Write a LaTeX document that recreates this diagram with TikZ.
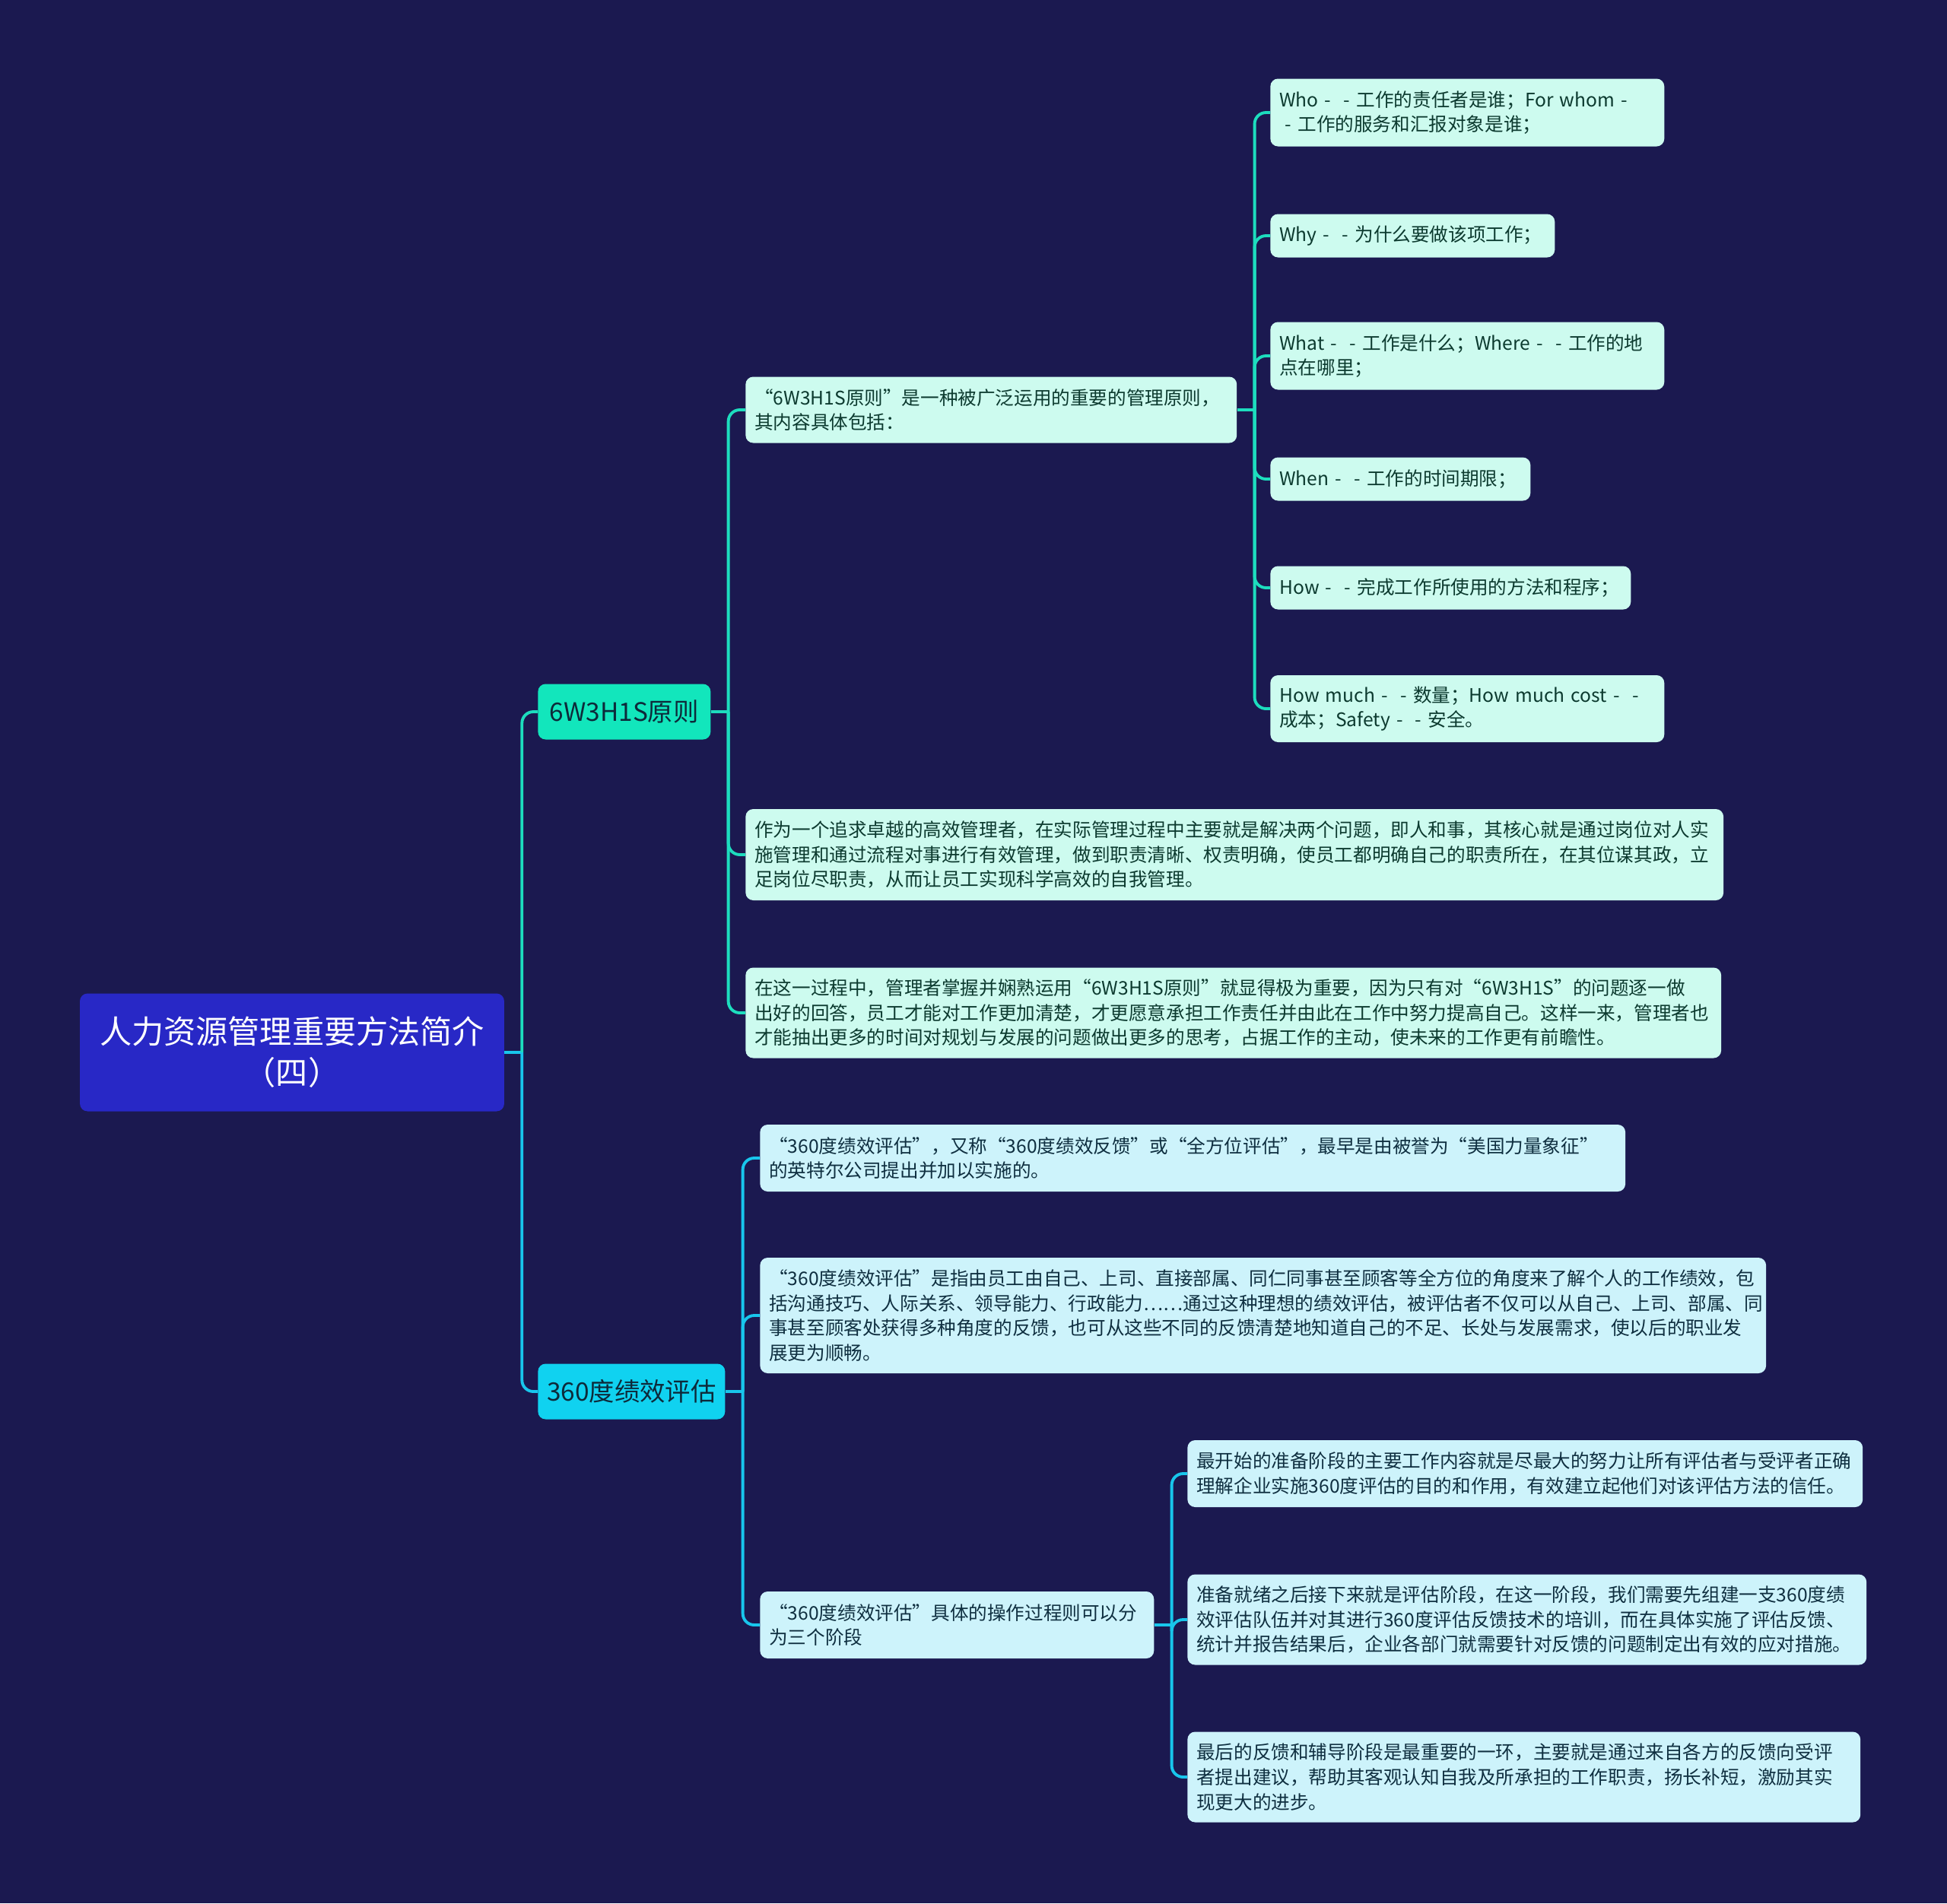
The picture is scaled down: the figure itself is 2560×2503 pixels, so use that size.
\documentclass[tikz,border=0pt]{standalone}
\usepackage{fontspec}
\setmainfont{Noto Sans CJK SC}
\usepackage{tikz}
\usetikzlibrary{positioning}
\usepackage{xcolor}
\definecolor{bgnavy}{HTML}{1B1950}
\definecolor{rootblue}{HTML}{2828C6}
\definecolor{mint}{HTML}{12E6BC}
\definecolor{sky}{HTML}{10D2F0}
\definecolor{mintpale}{HTML}{CDFBEF}
\definecolor{skypale}{HTML}{CDF3FB}
\definecolor{mintline}{HTML}{1DDDBE}
\definecolor{skyline}{HTML}{18C6EC}
\definecolor{minttext}{HTML}{0C3A2F}
\definecolor{skytext}{HTML}{0F2F40}
\definecolor{topictext}{HTML}{0D2A3A}

\begin{document}
\begin{tikzpicture}[x=0.02cm, y=-0.02cm,
  rootbox/.style={fill=rootblue, text=white, rounded corners=0.2cm, align=center,
    font=\fontsize{24}{30.6}\selectfont, minimum width=11.16cm, minimum height=3.1cm},
  topicbox/.style={anchor=west, rounded corners=0.2cm, text=topictext, align=center,
    font=\fontsize{19}{24}\selectfont, minimum height=1.46cm},
  leafbox/.style={anchor=west, rounded corners=0.2cm, align=left, inner xsep=0.24cm,
    inner ysep=0.1cm, font=\fontsize{14}{18.6}\selectfont},
  leafA/.style={leafbox, fill=mintpale, text=minttext},
  leafB/.style={leafbox, fill=skypale, text=skytext},
  linkA/.style={draw=mintline, line width=2.2pt, rounded corners=0.3cm},
  linkB/.style={draw=skyline, line width=2.2pt, rounded corners=0.3cm}]

  \fill[bgnavy] (0,0) rectangle (2560,2503);
  \useasboundingbox (0,0) rectangle (2560,2503);

  \node[rootbox] (root) at (384,1384) {人力资源管理重要方法简介\\（四）};

  \node[topicbox, fill=mint, minimum width=4.54cm] (rule) at (707,936) {6W3H1S原则};
  \node[topicbox, fill=sky, minimum width=4.92cm] (perf) at (707,1830) {360度绩效评估};

  \node[leafA, text width=12.44cm, minimum height=1.74cm] (ruleDef) at (980,539)
    {“6W3H1S原则”是一种被广泛运用的重要的管理原则，\\其内容具体包括：};
  \node[leafA, text width=25.24cm, minimum height=2.4cm] (ruleMgr) at (980,1124)
    {作为一个追求卓越的高效管理者，在实际管理过程中主要就是解决两个问题，即人和事，其核心就是通过岗位对人实\\
     施管理和通过流程对事进行有效管理，做到职责清晰、权责明确，使员工都明确自己的职责所在，在其位谋其政，立\\
     足岗位尽职责，从而让员工实现科学高效的自我管理。};
  \node[leafA, text width=25.18cm, minimum height=2.38cm] (ruleUse) at (980,1332)
    {在这一过程中，管理者掌握并娴熟运用“6W3H1S原则”就显得极为重要，因为只有对“6W3H1S”的问题逐一做\\
     出好的回答，员工才能对工作更加清楚，才更愿意承担工作责任并由此在工作中努力提高自己。这样一来，管理者也\\
     才能抽出更多的时间对规划与发展的问题做出更多的思考，占据工作的主动，使未来的工作更有前瞻性。};

  \node[leafA, text width=9.88cm, minimum height=1.78cm] (who) at (1670,148)
    {Who~-~~-~工作的责任者是谁；For~whom~-\\\hspace{0.3em}-~工作的服务和汇报对象是谁；};
  \node[leafA, text width=7.0cm, minimum height=1.14cm] (why) at (1670,310)
    {Why~-~~-~为什么要做该项工作；};
  \node[leafA, text width=9.88cm, minimum height=1.78cm] (what) at (1670,468)
    {What~-~~-~工作是什么；Where~-~~-~工作的地\\点在哪里；};
  \node[leafA, text width=6.36cm, minimum height=1.14cm] (when) at (1670,630)
    {When~-~~-~工作的时间期限；};
  \node[leafA, text width=9.0cm, minimum height=1.14cm] (how) at (1670,773)
    {How~-~~-~完成工作所使用的方法和程序；};
  \node[leafA, text width=9.88cm, minimum height=1.76cm] (howMuch) at (1670,932)
    {How~much~-~~-~数量；How~much~cost~-~~-\\成本；Safety~-~~-~安全。};

  \node[leafB, text width=22.28cm, minimum height=1.76cm] (perfDef) at (999,1523)
    {“360度绩效评估”，又称“360度绩效反馈”或“全方位评估”，最早是由被誉为“美国力量象征”\\
     的英特尔公司提出并加以实施的。};
  \node[leafB, text width=25.98cm, minimum height=3.04cm] (perfMean) at (999,1730)
    {“360度绩效评估”是指由员工由自己、上司、直接部属、同仁同事甚至顾客等全方位的角度来了解个人的工作绩效，包\\
     括沟通技巧、人际关系、领导能力、行政能力……通过这种理想的绩效评估，被评估者不仅可以从自己、上司、部属、同\\
     事甚至顾客处获得多种角度的反馈，也可从这些不同的反馈清楚地知道自己的不足、长处与发展需求，使以后的职业发\\
     展更为顺畅。};
  \node[leafB, text width=9.88cm, minimum height=1.76cm] (perfSteps) at (999,2137)
    {“360度绩效评估”具体的操作过程则可以分\\为三个阶段};

  \node[leafB, text width=17.28cm, minimum height=1.76cm] (stepPrep) at (1561,1938)
    {最开始的准备阶段的主要工作内容就是尽最大的努力让所有评估者与受评者正确\\
     理解企业实施360度评估的目的和作用，有效建立起他们对该评估方法的信任。};
  \node[leafB, text width=17.38cm, minimum height=2.38cm] (stepEval) at (1561,2130)
    {准备就绪之后接下来就是评估阶段，在这一阶段，我们需要先组建一支360度绩\\
     效评估队伍并对其进行360度评估反馈技术的培训，而在具体实施了评估反馈、\\
     统计并报告结果后，企业各部门就需要针对反馈的问题制定出有效的应对措施。};
  \node[leafB, text width=17.22cm, minimum height=2.38cm] (stepFeed) at (1561,2337)
    {最后的反馈和辅导阶段是最重要的一环，主要就是通过来自各方的反馈向受评\\
     者提出建议，帮助其客观认知自我及所承担的工作职责，扬长补短，激励其实\\
     现更大的进步。};

  \coordinate[right=0.46cm of root.east] (rootFork);
  \draw[linkB] (root.east) -- (rootFork);
  \draw[linkA] (rootFork) |- (rule.west);
  \draw[linkB] (rootFork) |- (perf.west);

  \coordinate[right=0.46cm of rule.east] (ruleFork);
  \draw[linkA] (rule.east) -- (ruleFork);
  \draw[linkA] (ruleFork) |- (ruleDef.west);
  \draw[linkA] (ruleFork) |- (ruleMgr.west);
  \draw[linkA] (ruleFork) |- (ruleUse.west);

  \coordinate[right=0.46cm of ruleDef.east] (defFork);
  \draw[linkA] (ruleDef.east) -- (defFork);
  \draw[linkA] (defFork) |- (who.west);
  \draw[linkA] (defFork) |- (why.west);
  \draw[linkA] (defFork) |- (what.west);
  \draw[linkA] (defFork) |- (when.west);
  \draw[linkA] (defFork) |- (how.west);
  \draw[linkA] (defFork) |- (howMuch.west);

  \coordinate[right=0.46cm of perf.east] (perfFork);
  \draw[linkB] (perf.east) -- (perfFork);
  \draw[linkB] (perfFork) |- (perfDef.west);
  \draw[linkB] (perfFork) |- (perfMean.west);
  \draw[linkB] (perfFork) |- (perfSteps.west);

  \coordinate[right=0.46cm of perfSteps.east] (stepFork);
  \draw[linkB] (perfSteps.east) -- (stepFork);
  \draw[linkB] (stepFork) |- (stepPrep.west);
  \draw[linkB] (stepFork) |- (stepEval.west);
  \draw[linkB] (stepFork) |- (stepFeed.west);
\end{tikzpicture}
\end{document}
